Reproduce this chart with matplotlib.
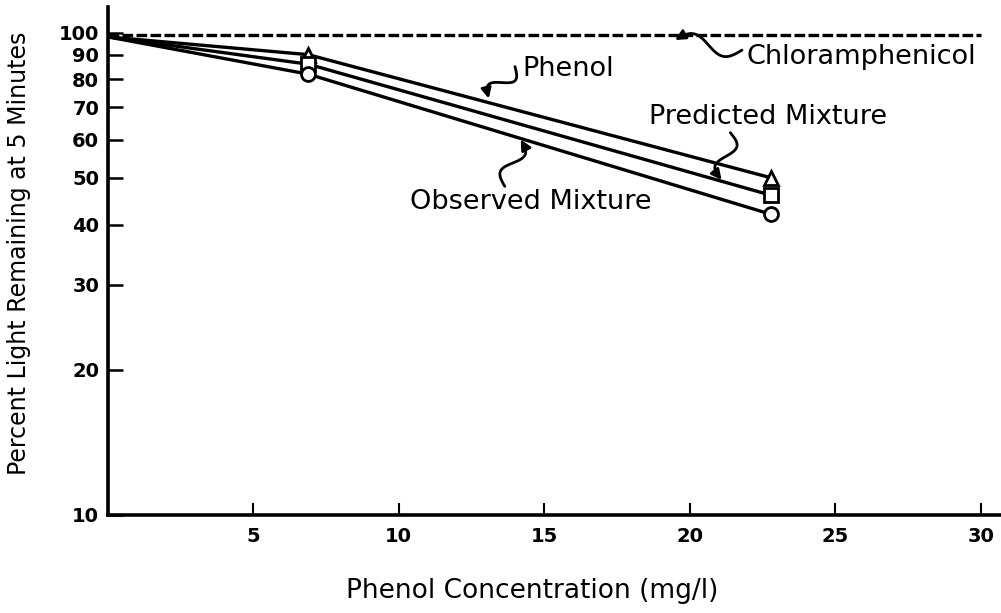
import numpy as np
import matplotlib
matplotlib.use("Agg")
import matplotlib.pyplot as plt
from matplotlib.ticker import FixedLocator, NullLocator

# phenol concentration (mg/l) at which light output was read
conc = [0.0, 6.9, 22.8]
# percent light remaining at 5 minutes
phenol = [98.0, 90.0, 50.0]
predicted = [98.0, 86.0, 46.0]
observed = [98.0, 82.0, 42.0]
chloramphenicol_x = [0.0, 30.0]
chloramphenicol = [99.0, 99.0]

x_ticks = [5, 10, 15, 20, 25, 30]
y_ticks = [10, 20, 30, 40, 50, 60, 70, 80, 90, 100]

plt.rcParams["font.family"] = ["DejaVu Sans"]


def squiggle(ax, start, end, amp=9.0, lw=2.0):
    """Hand-drawn looking S-shaped leader from a label to a curve."""
    p0 = ax.transData.transform(start)
    p1 = ax.transData.transform(end)
    d = p1 - p0
    n = np.array([-d[1], d[0]]) / np.hypot(*d)
    t = np.linspace(0, 1, 80)[:, None]
    pts = p0 + t * d + n * amp * np.sin(2 * np.pi * t)
    pts = ax.transAxes.inverted().transform(pts)
    ax.plot(pts[:-6, 0], pts[:-6, 1], color="black", lw=lw,
            transform=ax.transAxes, clip_on=False, solid_capstyle="round")
    ax.annotate("", xy=pts[-1], xytext=pts[-7], xycoords="axes fraction",
                textcoords="axes fraction",
                arrowprops=dict(arrowstyle="-|>,head_length=0.6,head_width=0.3",
                                color="black", lw=lw, shrinkA=0, shrinkB=0))


fig = plt.figure(figsize=(10.01, 6.13), dpi=100)
ax = fig.add_axes([0.1074, 0.1599, 0.8926, 0.8287])

ax.set_yscale("log")
ax.set_xlim(0, 30.7)
ax.set_ylim(10, 113)

ax.plot(chloramphenicol_x, chloramphenicol, color="black", lw=2.4,
        dashes=(3.2, 1.0))
line_kw = dict(color="black", lw=2.4, markersize=10, markeredgewidth=2,
               markerfacecolor="white")
for ys, mk in [(phenol, "^"), (predicted, "s"), (observed, "o")]:
    ax.plot(conc, ys, "-", **line_kw)
    ax.plot(conc[1:], ys[1:], linestyle="none", marker=mk, **line_kw)

for side in ("top", "right"):
    ax.spines[side].set_visible(False)
for side in ("left", "bottom"):
    ax.spines[side].set_linewidth(2.6)

ax.xaxis.set_major_locator(FixedLocator(x_ticks))
ax.yaxis.set_major_locator(FixedLocator(y_ticks))
ax.yaxis.set_minor_locator(NullLocator())
ax.set_xticklabels([str(v) for v in x_ticks])
ax.set_yticklabels([str(v) for v in y_ticks])
ax.tick_params(axis="y", direction="in", length=11, width=1.8, pad=6,
               labelsize=14)
ax.tick_params(axis="x", direction="in", length=9, width=1.5, pad=9,
               labelsize=14)
for lab in ax.get_xticklabels() + ax.get_yticklabels():
    lab.set_fontweight("bold")

ax.set_xlabel("Phenol Concentration (mg/l)", fontsize=19)
ax.xaxis.set_label_coords(0.475, -0.125)
ax.set_ylabel("Percent Light Remaining at 5 Minutes", fontsize=17)
ax.yaxis.set_label_coords(-0.086, 0.515)

txt_kw = dict(fontsize=19.5, ha="left", va="center")
ax.text(21.97, 89.0, "Chloramphenicol", **txt_kw)
ax.text(14.25, 84.0, "Phenol", **txt_kw)
ax.text(18.6, 66.7, "Predicted Mixture", **txt_kw)
ax.text(10.4, 44.6, "Observed Mixture", **txt_kw)

squiggle(ax, (21.8, 92.0), (19.5, 96.5))
squiggle(ax, (14.0, 85.0), (13.1, 73.0))
squiggle(ax, (21.4, 62.0), (21.1, 49.5))
squiggle(ax, (13.65, 48.0), (14.2, 60.0))

fig.savefig("out.png", dpi=100)
